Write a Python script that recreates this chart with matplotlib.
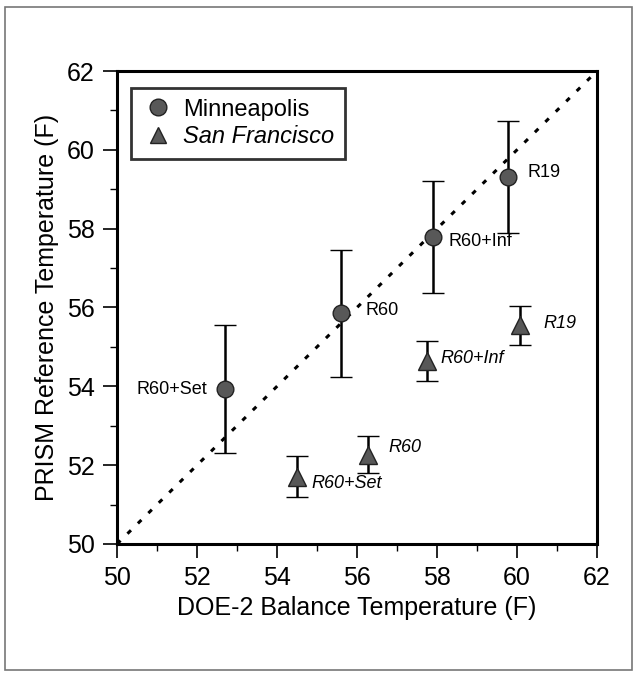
import matplotlib
matplotlib.use('Agg')
import matplotlib.pyplot as plt
from matplotlib.patches import Rectangle
from matplotlib.lines import Line2D

plt.rcParams['font.family'] = ['Liberation Sans', 'DejaVu Sans']

# Minneapolis (circles)
mn_x = [52.70, 55.59, 57.89, 59.78]
mn_y = [53.93, 55.85, 57.79, 59.32]
mn_err = [1.63, 1.62, 1.42, 1.42]
mn_labels = ['R60+Set', 'R60', 'R60+Inf', 'R19']

# San Francisco (triangles)
sf_x = [54.49, 56.28, 57.74, 60.08]
sf_y = [51.70, 52.27, 54.64, 55.55]
sf_err = [0.52, 0.48, 0.51, 0.50]
sf_labels = ['R60+Set', 'R60', 'R60+Inf', 'R19']

fig = plt.figure(figsize=(6.37, 6.73), dpi=100)
ax = fig.add_axes([0.1837, 0.1917, 0.7535, 0.7028])

# outer frame of the scanned figure
fig.patches.append(Rectangle((0.008, 0.005), 0.984, 0.985, transform=fig.transFigure,
                             fill=False, edgecolor='#777777', linewidth=1.2))

# 1:1 line
ax.plot([50, 62], [50, 62], color='black', linewidth=2.2, linestyle=(0, (1.6, 3.2)), zorder=1)

face = '#585858'
edge = '#222222'
ax.errorbar(mn_x, mn_y, yerr=mn_err, fmt='o', markersize=12, markerfacecolor=face,
            markeredgecolor=edge, markeredgewidth=1, ecolor='black', elinewidth=1.8,
            capsize=8, capthick=1.8, zorder=3)
ax.errorbar(sf_x, sf_y, yerr=sf_err, fmt='^', markersize=13, markerfacecolor=face,
            markeredgecolor=edge, markeredgewidth=1, ecolor='black', elinewidth=1.8,
            capsize=8, capthick=1.8, zorder=3)

# label offsets in pixels
mn_off = [(-18, 0), (25, 3), (16, -5), (19, 4)]
mn_ha = ['right', 'left', 'left', 'left']
for x, y, t, o, h in zip(mn_x, mn_y, mn_labels, mn_off, mn_ha):
    ax.annotate(t, (x, y), xytext=o, textcoords='offset pixels', ha=h, va='center', fontsize=13)

sf_off = [(15, -7), (20, 7), (14, 3), (23, 2)]
for x, y, t, o in zip(sf_x, sf_y, sf_labels, sf_off):
    ax.annotate(t, (x, y), xytext=o, textcoords='offset pixels', ha='left', va='center',
                fontsize=13, style='italic')

ax.set_xlim(50, 62)
ax.set_ylim(50, 62)
ax.set_xticks(range(50, 63, 2))
ax.set_yticks(range(50, 63, 2))
ax.set_xticks(range(51, 62, 2), minor=True)
ax.set_yticks(range(51, 62, 2), minor=True)
ax.tick_params(which='major', direction='out', length=10, width=1.2, labelsize=18, pad=6)
ax.tick_params(which='minor', direction='out', length=5, width=1.0)
for s in ax.spines.values():
    s.set_linewidth(2.2)

ax.set_xlabel('DOE-2 Balance Temperature (F)', fontsize=18, labelpad=4)
ax.set_ylabel('PRISM Reference Temperature (F)', fontsize=18, labelpad=6)

handles = [Line2D([], [], linestyle='none', marker='o', markersize=12, markerfacecolor=face,
                  markeredgecolor=edge),
           Line2D([], [], linestyle='none', marker='^', markersize=12, markerfacecolor=face,
                  markeredgecolor=edge)]
leg = ax.legend(handles, ['Minneapolis', 'San Francisco'], loc='upper left',
                bbox_to_anchor=(0.029, 0.964), fontsize=17, frameon=True,
                fancybox=False, edgecolor='black', handletextpad=0.35, borderpad=0.45,
                labelspacing=0.2, handlelength=1.4, borderaxespad=0)
leg.get_frame().set_linewidth(2)
leg.get_texts()[1].set_style('italic')

fig.savefig('out.png', dpi=100)
